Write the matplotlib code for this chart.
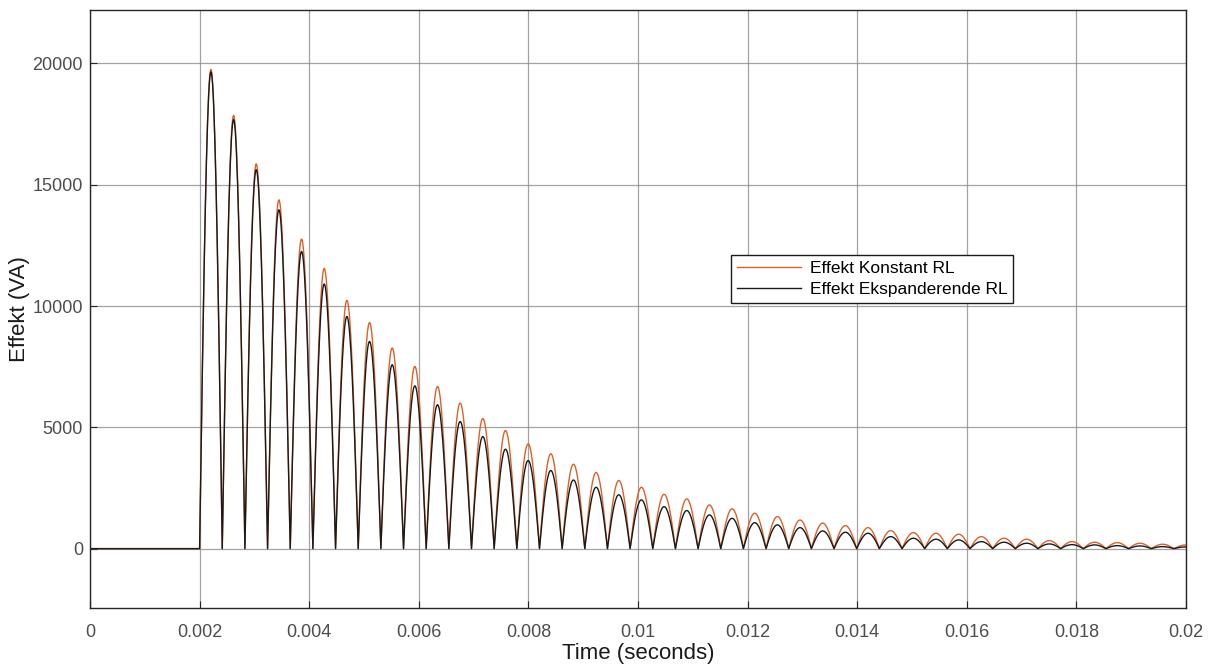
import matplotlib
matplotlib.use("Agg")
import matplotlib.pyplot as plt
import numpy as np

plt.rcParams["font.family"] = ["Liberation Sans", "DejaVu Sans"]

# switch-on time and width of one lobe (seconds)
t_on = 0.002
lobe_width = 0.0004135

# peak of each lobe (VA)
peaks_konstant = [19750, 17860, 15860, 14380, 12760, 11550, 10230, 9320, 8270, 7510,
                  6680, 6000, 5360, 4870, 4320, 3910, 3480, 3140, 2810, 2530,
                  2240, 2050, 1800, 1640, 1460, 1320, 1180, 1050, 950, 866,
                  743, 660, 635, 594, 495, 429, 388, 330, 289, 264,
                  248, 223, 182, 150]
peaks_ekspanderende = [19650, 17680, 15620, 13970, 12250, 10910, 9570, 8540, 7580, 6710,
                       5930, 5240, 4620, 4100, 3630, 3220, 2830, 2530, 2220, 2010,
                       1730, 1570, 1390, 1250, 1070, 980, 866, 730, 676, 635,
                       495, 429, 388, 359, 289, 264, 223, 194, 165, 153,
                       124, 111, 83, 70]

x_ticks = [0, 0.002, 0.004, 0.006, 0.008, 0.01, 0.012, 0.014, 0.016, 0.018, 0.02]
x_labels = ["0", "0.002", "0.004", "0.006", "0.008", "0.01", "0.012", "0.014", "0.016", "0.018", "0.02"]
y_ticks = [0, 5000, 10000, 15000, 20000]


def build_curve(peaks):
    # zero before switch-on, then one rectified half-wave per peak
    t = [0.0, t_on]
    p = [0.0, 0.0]
    s = np.linspace(0, 1, 41)[1:]
    for k, pk in enumerate(peaks):
        t.extend(t_on + (k + s) * lobe_width)
        p.extend(pk * np.abs(np.sin(np.pi * s)))
    return np.array(t), np.array(p)


t_k, p_k = build_curve(peaks_konstant)
t_e, p_e = build_curve(peaks_ekspanderende)

fig = plt.figure(figsize=(12.13, 6.66), dpi=100)
ax = fig.add_axes([0.0742, 0.0866, 0.9035, 0.8984])

ax.plot(t_k, p_k, color="#d9622b", lw=1.0, label="Effekt Konstant RL")
ax.plot(t_e, p_e, color="#1a1a1a", lw=1.0, label="Effekt Ekspanderende RL")

ax.set_xlim(0, 0.02)
ax.set_ylim(-2460, 22200)
ax.set_xticks(x_ticks)
ax.set_xticklabels(x_labels)
ax.set_yticks(y_ticks)
ax.grid(True, color="#8c8c8c", lw=0.9, alpha=0.8)
ax.set_axisbelow(True)
ax.tick_params(direction="in", length=5, labelsize=13, colors="#262626", labelcolor="#4d4d4d")
ax.tick_params(axis="x", pad=11)
ax.tick_params(axis="y", pad=5)
for sp in ax.spines.values():
    sp.set_color("#262626")
    sp.set_linewidth(1.0)

ax.set_xlabel("Time (seconds)", fontsize=16, color="#1a1a1a", labelpad=2)
ax.set_ylabel("Effekt (VA)", fontsize=16, color="#1a1a1a")
ax.yaxis.set_label_coords(-0.0547, 0.5)

leg = ax.legend(loc="upper left", bbox_to_anchor=(0.5766, 0.6056), fontsize=12.5,
                fancybox=False, framealpha=1, edgecolor="#1a1a1a", handlelength=3.7,
                borderpad=0.35, labelspacing=0.35, handletextpad=0.5)
leg.get_frame().set_linewidth(1.0)

fig.savefig("out.png", dpi=100)
